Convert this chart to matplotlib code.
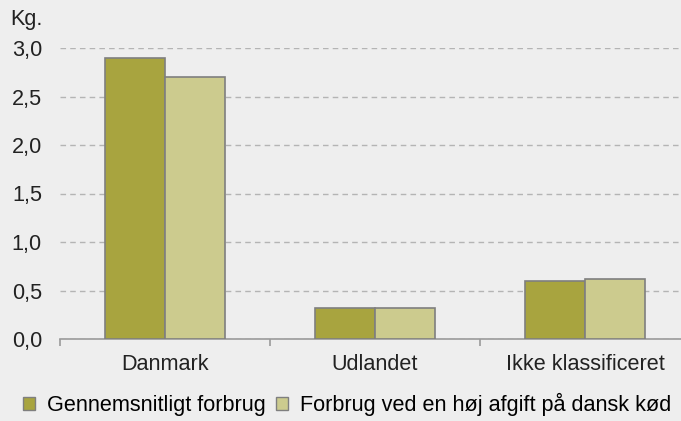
import matplotlib.pyplot as plt
import numpy as np
from matplotlib.patches import Patch

plt.rcParams['font.family'] = ['Liberation Sans', 'DejaVu Sans']

kategorier = ["Danmark", "Udlandet", "Ikke klassificeret"]
gennemsnit = [2.9, 0.32, 0.6]
hoej_afgift = [2.7, 0.32, 0.62]
serier = ["Gennemsnitligt forbrug", "Forbrug ved en høj afgift på dansk kød"]
farver = ["#a8a43f", "#cccb8e"]

bg = "#eeeeee"
fs = 15.6
fig = plt.figure(figsize=(6.81, 4.21), dpi=100, facecolor=bg)
ax = fig.add_axes([60/681, 82/421, 630/681, 291/421], facecolor=bg)

x = np.arange(len(kategorier))
w = 0.2857
ax.bar(x - w/2, gennemsnit, w, color=farver[0], edgecolor="#7f7f7f", linewidth=1.2, zorder=3)
ax.bar(x + w/2, hoej_afgift, w, color=farver[1], edgecolor="#7f7f7f", linewidth=1.2, zorder=3)

ax.set_xlim(-0.5, 2.5)
ax.set_ylim(0, 3.0)
ax.set_yticks(np.arange(0, 3.01, 0.5))
ax.set_yticklabels([f"{v:.1f}".replace(".", ",") for v in np.arange(0, 3.01, 0.5)], fontsize=fs, color="#222222")
ax.yaxis.grid(True, linestyle=(0, (4, 3)), color="#b4b4b4", linewidth=1, zorder=0)
ax.tick_params(axis="y", length=0, pad=13)

ax.set_xticks([-0.5, 0.5, 1.5])
ax.set_xticklabels([])
ax.set_xticks(x, minor=True)
ax.set_xticklabels(kategorier, minor=True, fontsize=fs, color="#222222")
ax.tick_params(axis="x", which="major", length=5, color="#9a9a9a", width=1.2)
ax.tick_params(axis="x", which="minor", length=0, pad=11)

for s in ["top", "right", "left"]:
    ax.spines[s].set_visible(False)
ax.spines["bottom"].set_color("#9a9a9a")
ax.spines["bottom"].set_linewidth(1.2)

fig.text(10/681, 1 - 20/421, "Kg.", fontsize=fs, color="#222222", va="center")

handles = [Patch(facecolor=f, edgecolor="#7f7f7f") for f in farver]
fig.legend(handles, serier, loc="lower left", bbox_to_anchor=(12/681, -0.014), ncol=2,
           frameon=False, fontsize=fs, handlelength=0.55, handleheight=0.55,
           handletextpad=0.55, columnspacing=0.5, borderaxespad=0.1)

fig.savefig("out.png", dpi=100, facecolor=bg)
